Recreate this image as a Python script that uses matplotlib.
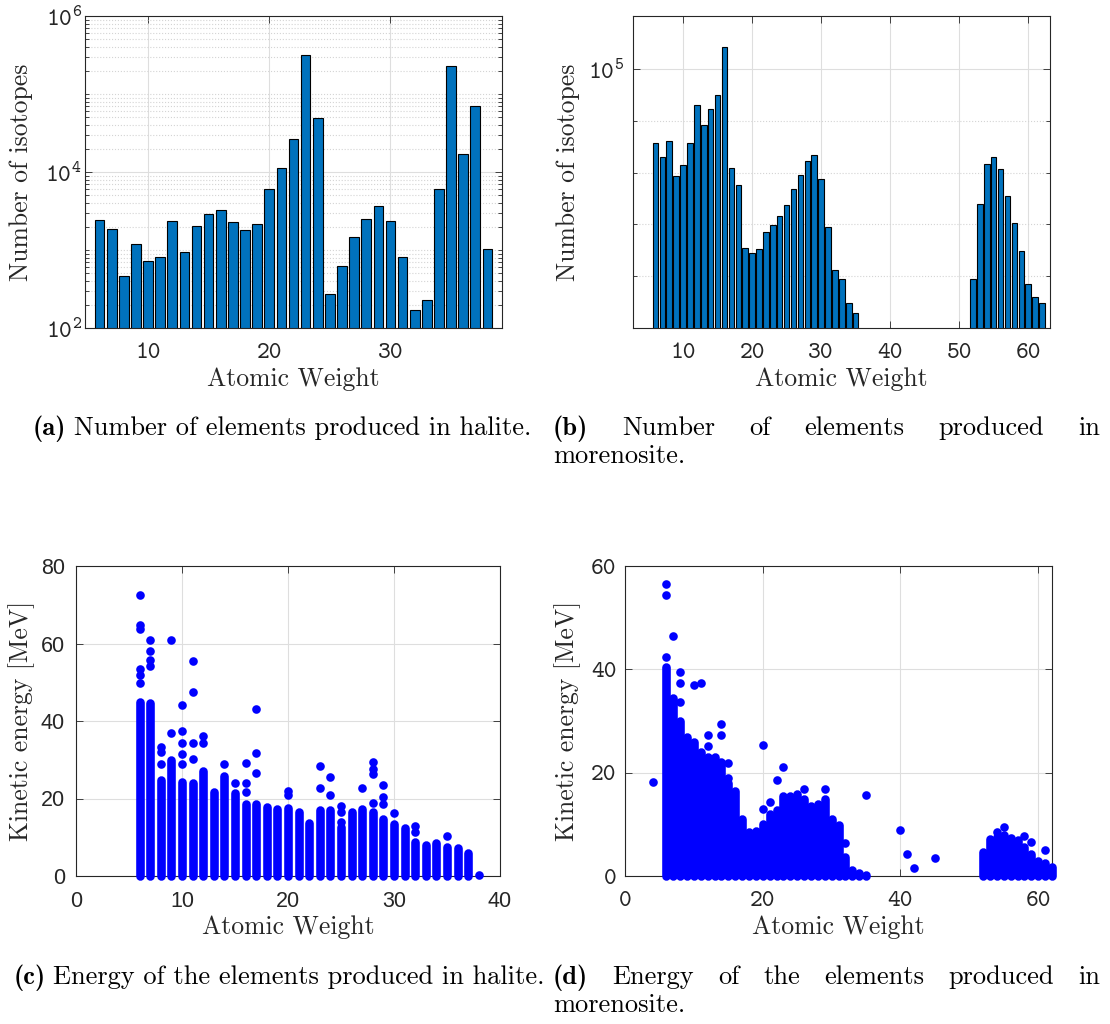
import numpy as np
import matplotlib
matplotlib.use('Agg')
import matplotlib.pyplot as plt
from matplotlib.ticker import NullFormatter, NullLocator

# --- дані ---
# (a) галіт: кількість ізотопів по атомній вазі
a_weight = list(range(6, 39))
a_count = [2425, 1860, 469, 1183, 730, 805, 2377, 952, 2010, 2897, 3289, 2263, 1823,
           2153, 6113, 11140, 26490, 319000, 49750, 273, 618, 1453, 2496, 3664, 2333,
           822, 168, 231, 6113, 228600, 16850, 70800, 1040]

# (b) мореноезит
b_weight = list(range(6, 36)) + list(range(52, 63))
b_count = [51700, 45900, 52700, 38500, 42400, 51700, 72800, 60600, 70300, 79600,
           121900, 41400, 35600, 20300, 19500, 20180, 23450, 24900, 27000, 29900,
           34450, 38800, 44100, 46500, 37700, 24450, 16680, 15490, 12450, 11460,
           15490, 30130, 43060, 45650, 41150, 32360, 25410, 19880, 14720, 13210, 12450]

# (c) галіт: енергія, суцільні стовпці точок + окремі точки
c_col_w = list(range(6, 38))
c_col_top = [45, 44.7, 24.7, 29.9, 24.3, 23.9, 27, 21.7, 25.9, 21.5, 18.7, 18.7, 17.7,
             17.2, 17.6, 16.6, 13.6, 17, 17, 12.7, 16.6, 17.2, 16.4, 14.6, 13.3, 12.5,
             8.8, 8, 8.6, 7.6, 7.1, 6]
c_pt_w = [6, 6, 6, 6, 6, 6, 7, 7, 7, 7, 8, 8, 8, 9, 9, 10, 10, 10, 10, 10, 11, 11, 11, 11,
          12, 12, 14, 15, 16, 16, 16, 17, 17, 17, 20, 20, 23, 23, 24, 24, 25, 25, 25, 27,
          28, 28, 28, 28, 29, 29, 29, 30, 32, 32, 35, 38]
c_pt_e = [72.4, 64.7, 63.8, 53.3, 52, 49.7, 61, 58, 55.7, 54.2, 33.3, 31.9, 29, 61, 36.9,
          44.2, 37.5, 34.4, 31.6, 29, 55.4, 47.5, 34.2, 30.2, 36.2, 34.2, 29, 23.9, 29.2,
          24.1, 21.6, 43.2, 31.7, 26.5, 21.9, 20.9, 28.4, 22.7, 25.5, 21, 18, 16.4, 14,
          22.7, 29.3, 27.7, 26.2, 18.9, 23.4, 20.4, 18.6, 16.2, 12.8, 11.3, 10.4, 0.3]

# (d) мореноезит: енергія
d_col_w = list(range(6, 36)) + list(range(52, 63))
d_col_top = [40.5, 34.5, 30, 27, 26, 24, 23, 23, 22, 18, 16.5, 11, 8.5, 8.7, 10, 12,
             12.7, 15.5, 15.5, 15.9, 15, 13.5, 14, 15, 11, 9.8, 3.7, 1.2, 0.6, 0.2,
             4.7, 7.1, 7.5, 8, 7, 7, 5.7, 4.2, 3, 2.5, 1.8]
d_pt_w = [4, 6, 6, 6, 7, 8, 8, 8, 10, 11, 12, 12, 14, 14, 15, 15, 20, 20, 21, 22, 23,
          26, 29, 32, 35, 40, 41, 42, 45, 54, 55, 56, 58, 59, 61]
d_pt_e = [18.1, 56.6, 54.3, 42.4, 46.4, 39.4, 37.4, 33.7, 36.9, 37.3, 27.2, 25.2, 29.5,
          27.2, 21.9, 18.9, 25.3, 13, 14.3, 18.5, 21.1, 16.9, 16.9, 6.4, 15.7, 8.9, 4.2,
          1.5, 3.5, 8.6, 9.5, 7.4, 7.8, 6.6, 5.1]

# --- стиль ---
plt.rcParams['mathtext.fontset'] = 'custom'
plt.rcParams['mathtext.rm'] = 'cmtt10'
plt.rcParams['mathtext.default'] = 'rm'
plt.rcParams['axes.unicode_minus'] = False

W, H = 1110, 1024
BAR = '#0072BD'
GRID = '#dedede'
AX = '#262626'
LAB = 18.5


def box(l, t, r, b):
    return [l / W, 1 - b / H, (r - l) / W, (b - t) / H]


def style(ax, l, t, r, b, ylab, ylab_x, tickfont='cmtt10', size=17.5, ypad=2):
    # рамка, тики всередину, сітка та підписи осей як у MATLAB
    for s in ax.spines.values():
        s.set_color(AX)
        s.set_linewidth(0.8)
    ax.tick_params(which='both', direction='in', top=True, right=True,
                   color=AX, width=0.6, labelcolor=AX, labelfontfamily=tickfont,
                   labelsize=size)
    ax.tick_params(which='major', length=5)
    ax.tick_params(which='minor', length=3)
    ax.tick_params(axis='x', pad=11)
    ax.tick_params(axis='y', pad=ypad)
    ax.set_axisbelow(True)
    ax.grid(True, which='major', color=GRID, lw=0.8)
    ax.set_xlabel('Atomic Weight', family='cmr10', fontsize=LAB, color=AX, va='top')
    ax.xaxis.set_label_coords(0.5, -39 / (b - t))
    ax.set_ylabel(ylab, family='cmr10', fontsize=LAB, color=AX, va='bottom')
    ax.yaxis.set_label_coords((ylab_x + 13 - l) / (r - l), 0.5)


fig = plt.figure(figsize=(W / 100, H / 100), dpi=100)

# (a)
ax = fig.add_axes(box(85, 16, 502, 328))
ax.set_yscale('log')
ax.bar(a_weight, a_count, width=0.8, color=BAR, edgecolor='black', linewidth=0.8)
ax.set_xlim(4.8, 39.2)
ax.set_ylim(1e2, 1e6)
ax.set_xticks([10, 20, 30])
ax.set_yticks([1e2, 1e4, 1e6], labels=[r'$10^{2}$', r'$10^{4}$', r'$10^{6}$'])
ax.set_yticks([m * 10.0 ** k for k in range(2, 6) for m in range(2, 11) if m * 10.0 ** k < 1e6
               and not (m == 10 and k % 2 == 1)], minor=True)
ax.yaxis.set_minor_formatter(NullFormatter())
ax.xaxis.set_minor_locator(NullLocator())
style(ax, 85, 16, 502, 328, 'Number of isotopes', 20)
ax.grid(True, which='minor', axis='y', color='#d4d4d4', lw=0.8, ls=':')

# (b)
ax = fig.add_axes(box(633, 16, 1050, 328))
ax.set_yscale('log')
ax.bar(b_weight, b_count, width=0.8, color=BAR, edgecolor='black', linewidth=0.8)
ax.set_xlim(2.75, 63.15)
ax.set_ylim(1e4, 1.6e5)
ax.set_xticks([10, 20, 30, 40, 50, 60])
ax.set_yticks([1e5], labels=[r'$10^{5}$'])
ax.set_yticks([10 ** 4.2, 10 ** 4.4, 10 ** 4.6, 10 ** 4.8], minor=True)
ax.yaxis.set_minor_formatter(NullFormatter())
ax.xaxis.set_minor_locator(NullLocator())
style(ax, 633, 16, 1050, 328, 'Number of isotopes', 567, ypad=6)
ax.grid(True, which='minor', axis='y', color='#d4d4d4', lw=0.8, ls=':')

# (c)
ax = fig.add_axes(box(76, 566, 500, 876))
ax.vlines(c_col_w, 0, c_col_top, colors='#0000ff', linewidth=6.2, capstyle='round',
          clip_on=False, zorder=3)
ax.scatter(c_pt_w, c_pt_e, s=6.2 ** 2, c='#0000ff', linewidths=0, clip_on=False, zorder=3)
ax.set_xlim(0, 40)
ax.set_ylim(0, 80)
ax.set_xticks([0, 10, 20, 30, 40])
ax.set_yticks([0, 20, 40, 60, 80])
style(ax, 76, 566, 500, 876, 'Kinetic energy [MeV]', 22, 'Liberation Sans', 15.5, 8)

# (d)
ax = fig.add_axes(box(625, 566, 1052, 876))
ax.vlines(d_col_w, 0, d_col_top, colors='#0000ff', linewidth=6.2, capstyle='round',
          clip_on=False, zorder=3)
ax.scatter(d_pt_w, d_pt_e, s=6.2 ** 2, c='#0000ff', linewidths=0, clip_on=False, zorder=3)
ax.set_xlim(0, 62)
ax.set_ylim(0, 60)
ax.set_xticks([0, 20, 40, 60])
ax.set_yticks([0, 20, 40, 60])
style(ax, 625, 566, 1052, 876, 'Kinetic energy [MeV]', 568, ypad=6)

# --- підписи ---
CAP = 19
renderer = fig.canvas.get_renderer()


def caption_center(tag, text, xc, y):
    t1 = fig.text(0, 1 - y / H, tag, family='cmb10', fontsize=CAP, va='baseline')
    t2 = fig.text(0, 1 - y / H, text, family='cmr10', fontsize=CAP, va='baseline')
    w1 = t1.get_window_extent(renderer).width
    w2 = t2.get_window_extent(renderer).width
    gap = 8
    x0 = xc - (w1 + gap + w2) / 2
    t1.set_x(x0 / W)
    t2.set_x((x0 + w1 + gap) / W)


def caption_justify(tag, words, x0, x1, y, last):
    texts = [fig.text(0, 1 - y / H, tag, family='cmb10', fontsize=CAP, va='baseline')]
    for w in words:
        texts.append(fig.text(0, 1 - y / H, w, family='cmr10', fontsize=CAP, va='baseline'))
    widths = [t.get_window_extent(renderer).width for t in texts]
    gap = (x1 - x0 - sum(widths)) / (len(texts) - 1)
    x = x0
    for t, w in zip(texts, widths):
        t.set_x(x / W)
        x += w + gap
    fig.text(x0 / W, 1 - (y + 28) / H, last, family='cmr10', fontsize=CAP, va='baseline')


caption_center('(a)', 'Number of elements produced in halite.', 282, 435)
caption_justify('(b)', ['Number', 'of', 'elements', 'produced', 'in'], 553, 1100, 435,
                'morenosite.')
caption_center('(c)', 'Energy of the elements produced in halite.', 279, 984)
caption_justify('(d)', ['Energy', 'of', 'the', 'elements', 'produced', 'in'], 553, 1100, 984,
                'morenosite.')

fig.savefig('out.png', dpi=100)
